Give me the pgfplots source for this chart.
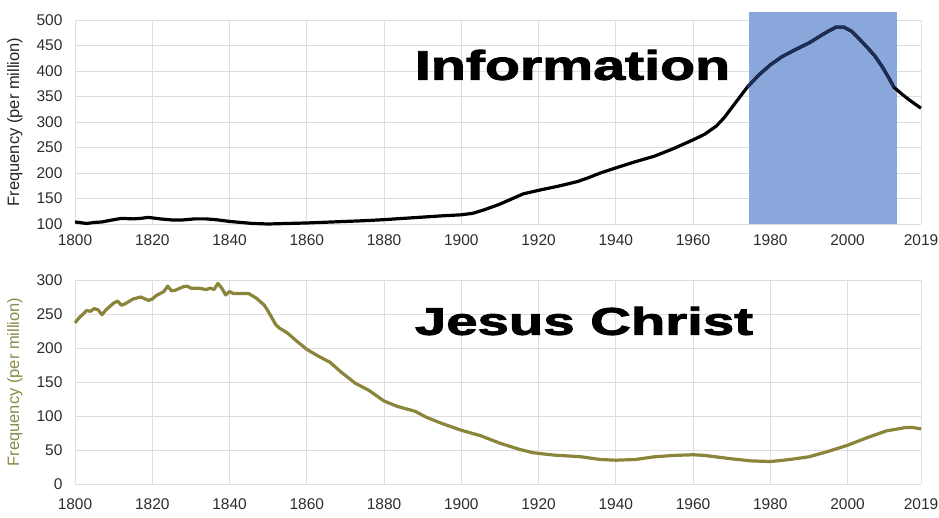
\documentclass[border=0pt]{standalone}
\usepackage{pgfplots}
\pgfplotsset{compat=1.18}
\usepackage{fontspec}
\setmainfont{Liberation Sans}
\newfontfamily\heavy{Liberation Sans}[BoldFeatures={FakeBold=2}]
\definecolor{gridc}{RGB}{222,222,222}
\definecolor{olive}{RGB}{138,133,58}
\definecolor{olivelab}{RGB}{140,138,72}
\definecolor{shadeblue}{RGB}{137,167,219}
\definecolor{navy}{RGB}{30,45,85}
\definecolor{tickc}{RGB}{45,45,45}

\pgfplotstableread{
year val
1800 104
1801 103
1803 101
1805 103
1807 104
1809 107
1812 111
1815 110
1817 111
1819 113
1822 110
1825 108
1828 108
1831 110
1834 110
1837 108
1840 105
1843 103
1846 101
1850 100
1855 101
1860 102
1865 103.5
1870 105
1875 106.5
1880 108.5
1885 111
1890 113.5
1895 116
1900 118
1903 121
1906 128
1910 139
1913 149
1916 159
1920 166
1925 174
1930 183
1933 191
1936 200
1940 210
1945 222
1950 233
1955 248
1960 265
1963 276
1966 292
1968 308
1970 328
1972 348
1974 368
1977 392
1980 412
1983 428
1986 440
1990 455
1993 469
1995 478
1997 486
1999 486
2001 478
2003 463
2005 447
2007 430
2009 408
2011 382
2012 368
2014 355
2016 343
2019 327
}\info

\pgfplotstableread{
year val
1800 237
1801 244
1803 255
1804 254
1805 258
1806 256
1807 249
1808 256
1810 266
1811 269
1812 263
1813 265
1815 272
1817 275
1819 270
1820 272
1821 277
1823 283
1824 291
1825 284
1826 285
1828 290
1829 291
1830 288
1832 288
1834 286
1835 288
1836 286
1837 295
1838 288
1839 278
1840 283
1841 280
1843 280
1845 280
1847 273
1849 263
1850 254
1851 244
1852 234
1853 229
1855 222
1857 212
1858.5 205
1860 198
1863 188
1866 179
1869 164
1872.6 148
1876 138
1880 122
1883.5 114
1888 107
1891 98
1895 89
1900 79
1905 71
1910 60
1915 51
1918.5 46
1924 42.5
1931 40
1936 36
1940 35
1945 36
1950 40
1955 42
1960 43
1963 42
1970 37
1975 34
1980 33
1985 36
1990 40
1995 48
2000 57
2005 68
2010 78
2015 83
2017 83
2019 81
}\jesus

\pgfplotsset{
  myaxis/.style={
    scale only axis,
    width=846pt,
    height=204pt,
    xmin=1800, xmax=2019,
    xtick={1800,1820,1840,1860,1880,1900,1920,1940,1960,1980,2000,2019},
    grid=major,
    grid style={gridc, line width=0.8pt},
    axis line style={draw=none},
    tick style={draw=none},
    /pgf/number format/assume math mode=true,
    xticklabel={\pgfmathprintnumber[1000 sep={}]{\tick}},
    ticklabel style={font=\fontsize{15.5}{18}\selectfont, text=tickc},
    yticklabel style={xshift=-9pt},
    every axis y label/.style={at={(axis description cs:-0.071,0.5)}, rotate=90, anchor=center, font=\fontsize{16.5}{19}\selectfont},
    clip=false,
  }
}

\begin{document}
\begin{tikzpicture}
\path[use as bounding box] (0,0) rectangle (939pt,518pt);

\begin{axis}[myaxis, at={(75pt,294pt)}, anchor=south west,
  ymin=100, ymax=500, ytick={100,150,...,500},
  xticklabel style={yshift=-7pt},
  ylabel={Frequency (per million)}, ylabel style={text=black!85}]
  \fill[fill=shadeblue] (axis cs:1974.4,100) rectangle (axis cs:2012.7,516);
  \addplot[black, line width=3.2pt, line join=round] table[x=year,y=val] {\info};
  \addplot[navy, line width=3.2pt, line join=round, restrict x to domain=1974:2013] table[x=year,y=val] {\info};
\end{axis}

\begin{axis}[myaxis, at={(75pt,34pt)}, anchor=south west,
  ymin=0, ymax=300, ytick={0,50,...,300},
  xticklabel style={yshift=-11pt},
  ylabel={Frequency (per million)}, ylabel style={text=olivelab}]
  \addplot[olive, line width=3.2pt, line join=round] table[x=year,y=val] {\jesus};
\end{axis}

\node at (572.5pt,453pt) {\resizebox{315pt}{30pt}{\heavy\bfseries Information}};
\node at (584pt,197pt) {\resizebox{338pt}{28pt}{\heavy\bfseries Jesus Christ}};
\end{tikzpicture}
\end{document}
